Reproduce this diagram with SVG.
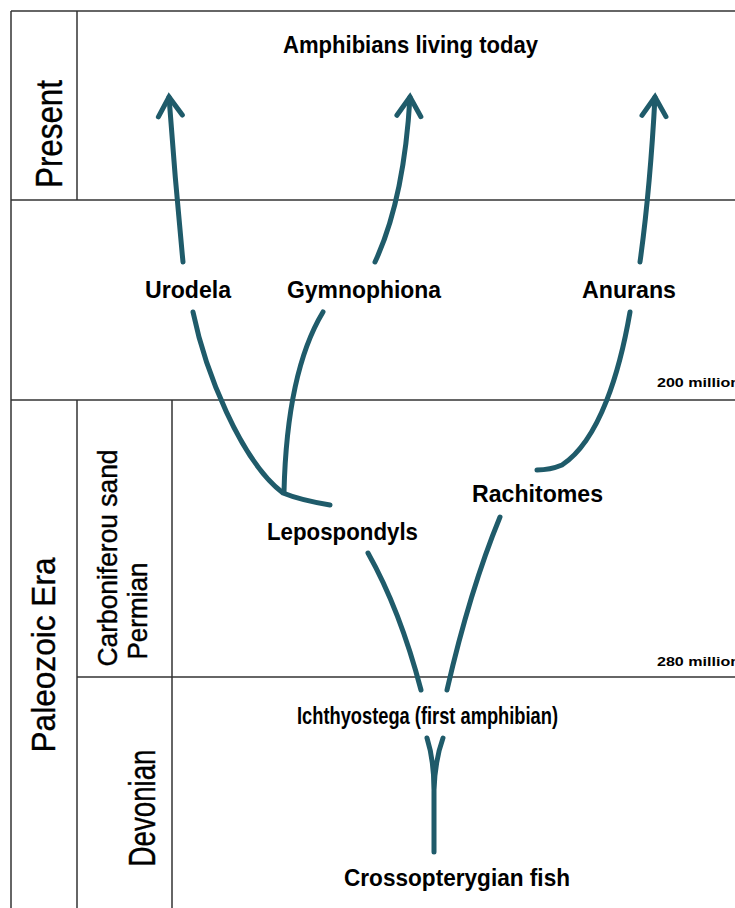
<svg xmlns="http://www.w3.org/2000/svg" width="735" height="908" viewBox="0 0 735 908">
<style>
.grid{stroke:#333;stroke-width:1.5;fill:none}
.br{stroke:#1f5b6a;stroke-width:5;fill:none;stroke-linecap:round}
.lbl{font-family:"Liberation Sans",Arial,sans-serif;font-weight:bold;font-size:24px;fill:#000;text-anchor:middle}
.era{font-family:"Liberation Sans",Arial,sans-serif;fill:#000;text-anchor:middle;stroke:#000;stroke-width:0.4}
.ma{font-family:"Liberation Sans",Arial,sans-serif;font-weight:bold;font-size:12.5px;fill:#000}
</style>
<defs>
<marker id="arr" markerUnits="userSpaceOnUse" markerWidth="40" markerHeight="40" viewBox="-30 -20 40 40" refX="0" refY="0" orient="auto" overflow="visible">
<path d="M-19,-12 L0,0 L-19,12" fill="none" stroke="#1f5b6a" stroke-width="5" stroke-linecap="round" stroke-linejoin="miter"/>
</marker>
</defs>
<rect width="735" height="908" fill="#fff"/>
<g id="grid">
<line class="grid" x1="11" y1="11" x2="735" y2="11"/>
<line class="grid" x1="11" y1="200" x2="735" y2="200"/>
<line class="grid" x1="11" y1="400" x2="735" y2="400"/>
<line class="grid" x1="77" y1="677" x2="735" y2="677"/>
<line class="grid" x1="11" y1="11" x2="11" y2="908"/>
<line class="grid" x1="77" y1="11" x2="77" y2="200"/>
<line class="grid" x1="77" y1="400" x2="77" y2="908"/>
<line class="grid" x1="172" y1="400" x2="172" y2="908"/>
</g>
<g id="periods">
<text class="era" font-size="37" textLength="108" lengthAdjust="spacingAndGlyphs" transform="translate(62,134) rotate(-90)">Present</text>
<text class="era" font-size="33" textLength="195" lengthAdjust="spacingAndGlyphs" transform="translate(55,655) rotate(-90)">Paleozoic Era</text>
<text class="era" font-size="27" textLength="217" lengthAdjust="spacingAndGlyphs" transform="translate(117,558) rotate(-90)">Carboniferou sand</text>
<text class="era" font-size="27" textLength="97" lengthAdjust="spacingAndGlyphs" transform="translate(147,611) rotate(-90)">Permian</text>
<text class="era" font-size="36" textLength="117" lengthAdjust="spacingAndGlyphs" transform="translate(155,808) rotate(-90)">Devonian</text>
<text class="ma" x="657" y="387" textLength="83" lengthAdjust="spacingAndGlyphs">200 million</text>
<text class="ma" x="657" y="666" textLength="83" lengthAdjust="spacingAndGlyphs">280 million</text>
</g>
<g id="connectors">
<path class="br" d="M183,262 Q175,180 169,97" marker-end="url(#arr)"/>
<path class="br" d="M375,262 Q404,200 410,97" marker-end="url(#arr)"/>
<path class="br" d="M640,262 Q650,190 655,97" marker-end="url(#arr)"/>
<path class="br" d="M193,312 C205,370 240,460 283,493 Q300,500 330,505"/>
<path class="br" d="M323,312 C300,350 286,410 284,492"/>
<path class="br" d="M630,312 C620,370 600,440 562,465 Q550,470 537,470"/>
<path class="br" d="M500,517 Q470,590 447,690"/>
<path class="br" d="M368,553 Q400,610 421,690"/>
<path class="br" d="M427,738 Q434,760 434,790 L434,852 M443,738 Q435,760 434,790"/>
</g>
<g id="n-today"><text class="lbl" x="410.5" y="53" textLength="255" lengthAdjust="spacingAndGlyphs">Amphibians living today</text></g>
<g id="n-urodela"><text class="lbl" x="188" y="298" textLength="86" lengthAdjust="spacingAndGlyphs">Urodela</text></g>
<g id="n-gymnophiona"><text class="lbl" x="364" y="298" textLength="154" lengthAdjust="spacingAndGlyphs">Gymnophiona</text></g>
<g id="n-anurans"><text class="lbl" x="629" y="298" textLength="94" lengthAdjust="spacingAndGlyphs">Anurans</text></g>
<g id="n-lepospondyls"><text class="lbl" x="342.5" y="540" textLength="151" lengthAdjust="spacingAndGlyphs">Lepospondyls</text></g>
<g id="n-rachitomes"><text class="lbl" x="537.5" y="502" textLength="131" lengthAdjust="spacingAndGlyphs">Rachitomes</text></g>
<g id="n-ichthyostega"><text class="lbl" x="427.5" y="724" textLength="261" lengthAdjust="spacingAndGlyphs">Ichthyostega (first amphibian)</text></g>
<g id="n-crosso"><text class="lbl" x="457" y="886" textLength="226" lengthAdjust="spacingAndGlyphs">Crossopterygian fish</text></g>
</svg>
